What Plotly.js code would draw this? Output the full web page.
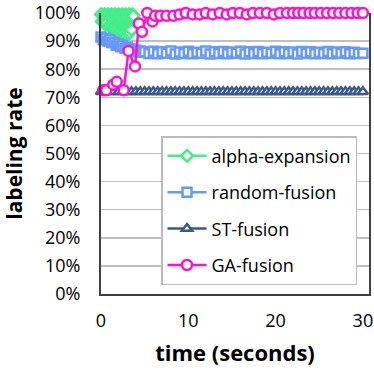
<!DOCTYPE html>
<html>
<head>
<meta charset="utf-8">
<script src="https://cdn.plot.ly/plotly-3.0.1.min.js"></script>
<style>
  html, body { margin: 0; padding: 0; background: #fff; }
  #chart { width: 374px; height: 370px; }
</style>
</head>
<body>
<div id="chart"></div>
<script>
// labeling rate vs time
const alphaT = [0.0, 0.1, 0.2, 0.3, 0.4, 0.5, 0.6, 0.7, 0.8, 0.9, 1.0, 1.1, 1.2, 1.3, 1.4, 1.5, 1.6, 1.7, 1.8,
    1.9, 2.0, 2.1, 2.2, 2.3, 2.4, 2.5, 2.6, 2.7, 2.8, 2.9, 3.0, 3.1, 3.2, 3.3, 3.4, 3.5, 3.6, 3.7];
const alphaV = [0.995, 0.97, 0.99, 0.965, 0.995, 0.96, 0.99, 0.965, 0.995, 0.955, 0.99, 0.95, 0.995, 0.945,
    0.99, 0.94, 0.995, 0.935, 0.99, 0.93, 0.995, 0.93, 0.99, 0.925, 0.995, 0.925, 0.99, 0.92, 0.995, 0.92,
    0.99, 0.925, 0.995, 0.93, 0.99, 0.94, 0.995, 0.99];

const randT = [0, 0.25, 0.5, 0.75, 1, 1.25, 1.5, 1.75, 2, 2.25, 2.5, 2.75, 3, 3.25, 3.5, 3.75, 4, 4.25, 4.5, 4.75, 5,
    5.5, 6, 6.5, 7, 7.5, 8, 8.5, 9, 9.5, 10, 10.5, 11, 11.5, 12, 12.5, 13, 13.5, 14, 14.5, 15,
    15.5, 16, 16.5, 17, 17.5, 18, 18.5, 19, 19.5, 20, 20.5, 21, 21.5, 22, 22.5, 23, 23.5, 24, 24.5, 25,
    25.5, 26, 26.5, 27, 27.5, 28, 28.5, 29, 29.5, 30];
const randV = [0.915, 0.905, 0.91, 0.9, 0.905, 0.895, 0.895, 0.885, 0.89, 0.88, 0.885, 0.875, 0.878, 0.87, 0.872,
    0.866, 0.868, 0.862, 0.865, 0.86, 0.862,
    0.856, 0.864, 0.855, 0.862, 0.857, 0.865, 0.854, 0.861, 0.856, 0.864, 0.855, 0.86, 0.857, 0.865, 0.854,
    0.862, 0.856, 0.863, 0.855, 0.861, 0.857, 0.864, 0.854, 0.862, 0.856, 0.863, 0.855, 0.86, 0.857, 0.864,
    0.855, 0.862, 0.856, 0.861, 0.854, 0.863, 0.857, 0.862, 0.855, 0.86, 0.856, 0.863, 0.855, 0.861, 0.857,
    0.862, 0.855, 0.86, 0.856, 0.857];

const stT = [0, 0.5, 1, 1.5, 2, 2.5, 3, 3.5, 4, 4.5, 5, 5.5, 6, 6.5, 7, 7.5, 8, 8.5, 9, 9.5, 10,
    10.5, 11, 11.5, 12, 12.5, 13, 13.5, 14, 14.5, 15, 15.5, 16, 16.5, 17, 17.5, 18, 18.5, 19, 19.5, 20,
    20.5, 21, 21.5, 22, 22.5, 23, 23.5, 24, 24.5, 25, 25.5, 26, 26.5, 27, 27.5, 28, 28.5, 29, 29.5, 30];
const stV = [0.72, 0.72, 0.72, 0.72, 0.72, 0.72, 0.72, 0.72, 0.72, 0.72, 0.72, 0.72, 0.72, 0.72, 0.72, 0.72,
    0.72, 0.72, 0.72, 0.72, 0.72, 0.72, 0.72, 0.72, 0.72, 0.72, 0.72, 0.72, 0.72, 0.72, 0.72, 0.72,
    0.72, 0.72, 0.72, 0.72, 0.72, 0.72, 0.72, 0.72, 0.72, 0.72, 0.72, 0.72, 0.72, 0.72, 0.72, 0.72,
    0.72, 0.72, 0.72, 0.72, 0.72, 0.72, 0.72, 0.72, 0.72, 0.72, 0.72, 0.72, 0.72];

const gaT = [0.25, 0.6, 1.4, 1.8, 2.6, 3.15, 3.9, 4.35, 4.7, 5.3, 5.9, 6.2, 6.8, 7.5, 8.3, 9.0, 9.7,
    10.5, 11.3, 12.0, 12.8, 13.6, 14.4, 15.1, 15.9, 16.7, 17.4, 18.2, 19.0, 19.8, 20.5, 21.3, 22.0, 22.6,
    23.2, 23.9, 24.5, 25.2, 25.9, 26.6, 27.3, 28.0, 28.7, 29.4, 30.0];
const gaV = [0.725, 0.725, 0.745, 0.755, 0.725, 0.865, 0.81, 0.963, 0.933, 1.0, 0.97, 0.99, 0.99, 0.99,
    0.99, 0.995, 1.0, 0.995, 0.995, 1.0, 0.995, 1.0, 0.995, 1.0, 1.0, 0.995, 1.0, 1.0, 1.0, 0.995, 1.0,
    1.0, 1.0, 1.0, 1.0, 1.0, 1.0, 1.0, 1.0, 1.0, 1.0, 1.0, 1.0, 1.0, 1.0];

const names = ["alpha-expansion", "random-fusion", "ST-fusion", "GA-fusion"];
const colors = ["#44ee88", "#6699ff", "#3a5a8c", "#ff11cc"];
const symbols = ["diamond", "square", "triangle-up", "circle"];
const sizes = [9, 9, 9, 10];

function series(i, t, v) {
    return {
        x: t,
        y: v,
        name: names[i],
        legendgroup: "g" + i,
        type: "scatter",
        mode: "lines+markers",
        cliponaxis: false,
        line: { color: colors[i], width: 2.5 },
        marker: {
            symbol: symbols[i],
            size: sizes[i],
            color: "#fff",
            line: { color: colors[i], width: 2.5 }
        }
    };
}

const data = [
    series(0, alphaT, alphaV),
    series(1, randT, randV),
    series(2, stT, stV),
    series(3, gaT, gaV)
];

const layout = {
    width: 374,
    height: 370,
    margin: { l: 101, r: 5, t: 13, b: 76 },
    paper_bgcolor: "#fff",
    plot_bgcolor: "#fff",
    font: { family: "Open Sans, sans-serif", color: "#000" },
    showlegend: true,
    legend: {
        x: 0.224, y: 0.562, xanchor: "left", yanchor: "top",
        bgcolor: "#fff",
        bordercolor: "#bbbbbb",
        borderwidth: 1.5,
        font: { size: 18, color: "#000" },
        traceorder: "grouped",
        tracegroupgap: 10,
        itemwidth: 39
    },
    xaxis: {
        range: [0, 30.7],
        tickvals: [0, 10, 20, 30],
        showgrid: false,
        zeroline: false,
        showline: true,
        linecolor: "#404040",
        linewidth: 2,
        ticks: "",
        ticklabelstandoff: 9,
        tickfont: { size: 18 },
        title: { text: "<b>time (seconds)</b>", font: { size: 22 }, standoff: 15 },
        automargin: false
    },
    yaxis: {
        range: [0, 1],
        dtick: 0.1,
        tickformat: ".0%",
        showgrid: true,
        gridcolor: "#bfbfbf",
        gridwidth: 1.5,
        zeroline: false,
        showline: true,
        mirror: true,
        linecolor: "#404040",
        linewidth: 2,
        ticks: "",
        ticklabelstandoff: 15,
        tickfont: { size: 18 },
        title: { text: "<b>labeling rate</b>", font: { size: 21 }, standoff: 8 },
        automargin: false
    }
};

Plotly.newPlot("chart", data, layout, { displayModeBar: false, staticPlot: true });
</script>
</body>
</html>
